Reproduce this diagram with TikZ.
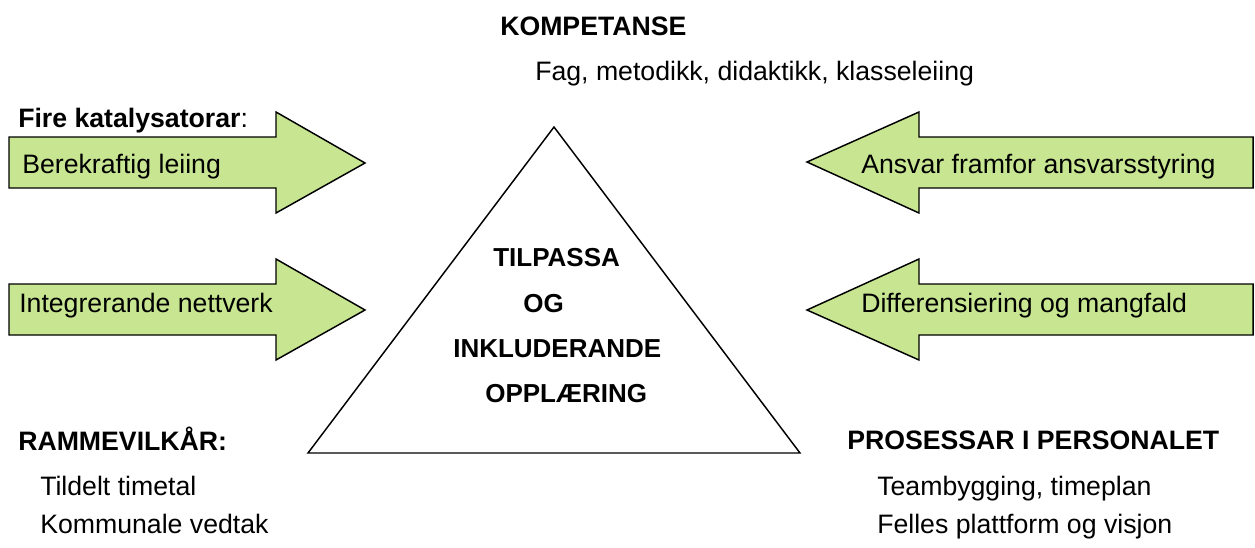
\documentclass[tikz,border=0pt]{standalone}
\usepackage{fontspec}
\setmainfont{Liberation Sans}
\definecolor{arrowgreen}{RGB}{200,230,145}
\begin{document}
\begin{tikzpicture}[x=0.75pt,y=-0.75pt,
  txt/.style={anchor=base west,inner sep=0pt,font=\fontsize{20}{24}\selectfont},
  btxt/.style={txt,font=\fontsize{20}{24}\selectfont\bfseries},
  ttxt/.style={txt,font=\fontsize{19.5}{24}\selectfont\bfseries},
  garrow/.style={draw=black,fill=arrowgreen,line width=1.1pt,line join=miter}]
\useasboundingbox (0,0) rectangle (1255,547);
% triangle
\draw[line width=1.1pt,line join=miter] (554,127) -- (800,453) -- (308,453) -- cycle;
% right-pointing arrows
\draw[garrow] (9,137) -- (276,137) -- (276,112) -- (365,163) -- (276,213) -- (276,188) -- (9,188) -- cycle;
\draw[garrow] (9,284) -- (276,284) -- (276,259) -- (365,310) -- (276,360) -- (276,335) -- (9,335) -- cycle;
% left-pointing arrows
\draw[garrow] (1253,137) -- (919,137) -- (919,112) -- (807,162) -- (919,213) -- (919,188) -- (1253,188) -- cycle;
\draw[garrow] (1253,284) -- (919,284) -- (919,259) -- (807,310) -- (919,360) -- (919,335) -- (1253,335) -- cycle;
% texts
\node[btxt] (komp) at (500,35) {KOMPETANSE};
\node[txt] (fag) at (535,80) {Fag, metodikk, didaktikk, klasseleiing};
\node[txt] (fire) at (18,127) {\textbf{Fire katalysatorar}:};
\node[txt] (bere) at (22,173) {Berekraftig leiing};
\node[txt] (integ) at (19,312) {Integrerande nettverk};
\node[txt] (ansvar) at (861,173) {Ansvar framfor ansvarsstyring};
\node[txt] (diff) at (861,312) {Differensiering og mangfald};
\node[ttxt] (t1) at (493,266) {TILPASSA};
\node[ttxt] (t2) at (523,312) {OG};
\node[ttxt] (t3) at (453,357) {INKLUDERANDE};
\node[ttxt] (t4) at (485,402) {OPPLÆRING};
\node[btxt] (ramme) at (18,450) {RAMMEVILKÅR:};
\node[txt] (tild) at (40,495) {Tildelt timetal};
\node[txt] (komm) at (40,533) {Kommunale vedtak};
\node[btxt] (pros) at (847,449) {PROSESSAR I PERSONALET};
\node[txt] (team) at (877,495) {Teambygging, timeplan};
\node[txt] (felles) at (877,533) {Felles plattform og visjon};
\end{tikzpicture}
\end{document}
